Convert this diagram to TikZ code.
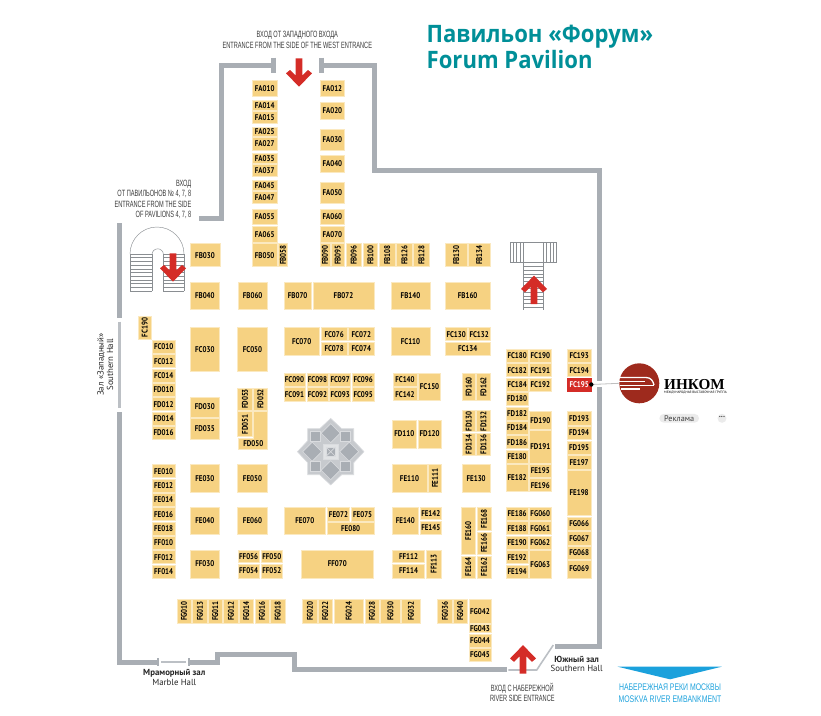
\documentclass[tikz,border=0pt]{standalone}
\usepackage{fontspec}
\setmainfont{PT Sans}
\newfontfamily\standfont[FakeStretch=0.84]{PT Sans}
\newfontfamily\thinfont[FakeStretch=0.62]{Liberation Sans}
\newfontfamily\riverfont[FakeStretch=0.72]{Liberation Sans}
\newfontfamily\titlefont[FakeStretch=0.92]{Open Sans}
\newfontfamily\logofont{Liberation Serif}
\usetikzlibrary{positioning}
\definecolor{standcol}{HTML}{F6D282}
\definecolor{standedge}{HTML}{FBE9C0}
\definecolor{wallcol}{HTML}{A9AEB4}
\definecolor{thinwall}{HTML}{BCC0C5}
\definecolor{redcol}{HTML}{D42C27}
\definecolor{tealcol}{HTML}{008F98}
\definecolor{bluecol}{HTML}{1BA1DC}
\definecolor{logocol}{HTML}{9E2A1D}
\definecolor{stepcol}{HTML}{8A8E92}
\definecolor{textcol}{HTML}{3A3A3A}
\definecolor{fountline}{HTML}{DADCDF}
\tikzset{
  standbox/.style={fill=standcol, draw=standedge, line width=0.6pt, inner sep=0pt,
    font=\standfont\bfseries\fontsize{8.3}{9}\selectfont},
  standup/.style={standbox, rotate=90},
  standred/.style={standbox, fill=redcol, draw=redcol, text=white},
  wall/.style={draw=wallcol, line width=5pt},
  slim/.style={draw=thinwall, line width=2.4pt},
  stairline/.style={draw=stepcol, line width=0.45pt},
  fountpart/.style={fill=wallcol, draw=fountline, line width=0.6pt},
  thinlabel/.style={text=textcol, inner sep=0pt, align=center,
    font=\thinfont\fontsize{9.1}{10.4}\selectfont},
  halllabel/.style={text=black!85, inner sep=0pt, align=center,
    font=\fontsize{8.8}{9.6}\selectfont},
}
%% x0 y0 x1 y1 in pixels of the plan
\newcommand{\Stand}[6][standbox]{
  \pgfmathsetmacro\sw{#5-#3}\pgfmathsetmacro\sh{#6-#4}
  \pgfmathsetmacro\sx{(#3+#5)/2}\pgfmathsetmacro\sy{(#4+#6)/2}
  \node[#1, minimum width=\sw pt, minimum height=\sh pt] (#2) at (\sx,\sy) {#2};
}
\newcommand{\VStand}[5]{
  \pgfmathsetmacro\sw{#4-#2}\pgfmathsetmacro\sh{#5-#3}
  \pgfmathsetmacro\sx{(#2+#4)/2}\pgfmathsetmacro\sy{(#3+#5)/2}
  \node[standup, minimum width=\sh pt, minimum height=\sw pt] (#1) at (\sx,\sy) {#1};
}
\newcommand{\RedArrow}[3]{
  \fill[redcol, shift={(#1,#2)}, rotate=#3] (-3.3,0) -- (3.3,0) -- (3.3,17.3) -- (9,11.7)
  -- (13,15) -- (0,28.4) -- (-13,15) -- (-9,11.7) -- (-3.3,17.3) -- cycle;
}

\begin{document}
\begin{tikzpicture}[x=1pt,y=-1pt]

  \useasboundingbox (0,0) rectangle (821,715);

  %% walls
  \draw[wall] (273.5,65) -- (221.5,65) -- (221.5,218) -- (199,218);
  \draw[wall] (273.5,57.5) -- (273.5,72.5);
  \draw[wall] (321.5,65) -- (374.8,65) -- (374.8,170.5) -- (599.2,170.5) -- (599.2,381);
  \draw[wall] (321.5,57.5) -- (321.5,72.5);
  \draw[wall] (599.2,387) -- (599.2,646.3) -- (555,646.3);
  \draw[wall] (506.7,669.8) -- (294.5,669.8) -- (294.5,654.5) -- (217.5,654.5) -- (217.5,662)
  -- (189.5,662);
  \draw[wall] (157.5,662) -- (119.3,662) -- (119.3,412.3);
  \draw[wall] (119.3,223) -- (119.3,317.7);
  \draw[slim] (119.3,321.7) -- (119.3,408.3);
  \draw[slim] (161,662) -- (186,662);
  \draw[draw=wallcol, line width=2pt] (158.3,658) -- (158.3,666);
  \draw[draw=wallcol, line width=2pt] (189,658) -- (189,666);
  \draw[slim, line width=1.6pt] (553.3,645) -- (536.7,670) -- (508.3,670);

  %% left stairs
  \draw[stairline] (130,254) arc[start angle=180, end angle=360, radius=27];
  \draw[stairline] (152,254.5) arc[start angle=180, end angle=360, radius=5.7];
  \foreach \Y in {254,257.7,...,291}{
    \draw[stairline] (130,\Y) -- (152,\Y);
    \draw[stairline] (163.4,\Y) -- (184,\Y);
  }
  \draw[stairline] (130,254) -- (130,290.7);
  \draw[stairline] (152,254) -- (152,290.7);
  \draw[stairline] (163.4,254) -- (163.4,290.7);
  \draw[stairline] (184,254) -- (184,290.7);
  \RedArrow{173}{253.3}{0}

  %% right stairs
  \draw[stairline] (510,242.7) rectangle (556.7,262.7);
  \foreach \X in {513.3,516.6,...,524}{
    \draw[stairline] (\X,242.7) -- (\X,262.7);
  }
  \foreach \X in {543.3,546.6,...,556}{
    \draw[stairline] (\X,242.7) -- (\X,262.7);
  }
  \foreach \Y in {266.4,270.1,...,310.5}{
    \draw[stairline] (523.3,\Y) -- (543.3,\Y);
  }
  \draw[stairline] (523.3,262.7) -- (523.3,310);
  \draw[stairline] (543.3,262.7) -- (543.3,310);
  \RedArrow{534}{304}{180}

  \RedArrow{299}{58.3}{0}
  \RedArrow{523}{673.5}{180}

  %% FA and FB
  \Stand{FA010}{252}{80.7}{277.3}{96.7}
  \Stand{FA014}{252}{100.7}{277.3}{110.7}
  \Stand{FA015}{252}{111.7}{277.3}{123.3}
  \Stand{FA025}{252}{127}{277.3}{136.7}
  \Stand{FA027}{252}{137.7}{277.3}{150}
  \Stand{FA035}{252}{153.7}{277.3}{163.3}
  \Stand{FA037}{252}{164.3}{277.3}{176.7}
  \Stand{FA045}{252}{180.3}{277.3}{190}
  \Stand{FA047}{252}{191}{277.3}{203.3}
  \Stand{FA055}{252}{209}{277.3}{224.3}
  \Stand{FA065}{252}{226}{277.3}{242.3}
  \Stand{FB050}{252}{243.7}{277.3}{266.7}
  \Stand{FA012}{320}{80.7}{344.7}{96.7}
  \Stand{FA020}{320}{102.7}{344.7}{119}
  \Stand{FA030}{320}{129}{344.7}{150}
  \Stand{FA040}{320}{155.7}{344.7}{172.3}
  \Stand{FA050}{320}{182.3}{344.7}{203.3}
  \Stand{FA060}{320}{209}{344.7}{224.3}
  \Stand{FA070}{320}{226}{344.7}{242.3}
  \VStand{FB058}{278.3}{243.7}{287.7}{266.7}
  \VStand{FB090}{320}{243.7}{330}{266.7}
  \VStand{FB095}{331.3}{243.7}{344.3}{266.7}
  \VStand{FB096}{346}{243.7}{361.3}{266.7}
  \VStand{FB100}{363}{243.7}{377.7}{266.7}
  \VStand{FB108}{379.3}{243.7}{395}{266.7}
  \VStand{FB126}{396.7}{243.7}{412.3}{266.7}
  \VStand{FB128}{413.7}{243.7}{429.3}{266.7}
  \VStand{FB130}{445.3}{243.7}{467}{266.7}
  \VStand{FB134}{468.3}{243.7}{490}{266.7}
  \Stand{FB030}{190}{243.7}{220}{266.7}
  \Stand{FB040}{190}{282}{219.7}{309.3}
  \Stand{FB060}{238}{282}{267.3}{309.3}
  \Stand{FB070}{284}{282}{311.3}{309.3}
  \Stand{FB072}{313}{282}{374}{309.3}
  \Stand{FB140}{391}{282}{430}{309.3}
  \Stand{FB160}{445.3}{282}{490}{309.3}

  %% FC
  \VStand{FC190}{138.3}{316}{151}{339}
  \Stand{FC010}{152.3}{340}{175}{353.3}
  \Stand{FC012}{152.3}{354.7}{175}{367.7}
  \Stand{FC014}{152.3}{369}{175}{382}
  \Stand{FC030}{190}{327.7}{219.7}{371.7}
  \Stand{FC050}{237.7}{327.7}{267.3}{371.7}
  \Stand{FC070}{284}{327.7}{319.3}{355}
  \Stand{FC076}{321}{327.7}{347.3}{340.7}
  \Stand{FC072}{348.7}{327.7}{374}{340.7}
  \Stand{FC078}{321}{342}{347.3}{355}
  \Stand{FC074}{348.7}{342}{374}{355}
  \Stand{FC090}{284}{373}{305}{386.3}
  \Stand{FC098}{307}{373}{328}{386.3}
  \Stand{FC097}{329.7}{373}{350.7}{386.3}
  \Stand{FC096}{352.3}{373}{374}{386.3}
  \Stand{FC091}{284}{387.7}{305}{401}
  \Stand{FC092}{307}{387.7}{328}{401}
  \Stand{FC093}{329.7}{387.7}{350.7}{401}
  \Stand{FC095}{352.3}{387.7}{374}{401}
  \Stand{FC110}{391}{327.7}{430}{355}
  \Stand{FC130}{445.3}{327.7}{467}{340.7}
  \Stand{FC132}{468.3}{327.7}{490}{340.7}
  \Stand{FC134}{445.3}{342}{490}{355}
  \Stand{FC140}{393}{373.3}{417}{386.3}
  \Stand{FC142}{393}{387.7}{417}{400.7}
  \Stand{FC150}{418.3}{373.3}{440.7}{400.7}
  \Stand{FC180}{506.3}{349.3}{528}{362.3}
  \node[standbox, minimum width=22pt, minimum height=13pt] (FC190r) at (540.3,355.8) {FC190};
  \Stand{FC182}{506.3}{363.7}{528}{376.7}
  \Stand{FC191}{529.3}{363.7}{551.3}{376.7}
  \Stand{FC184}{506.3}{378}{528}{391}
  \Stand{FC192}{529.3}{378}{551.3}{391}
  \Stand{FC193}{567.3}{349.3}{591}{362.3}
  \Stand{FC194}{567.3}{363.7}{591}{376.7}
  \Stand[standred]{FC195}{567.3}{378}{591}{391}

  %% FD
  \Stand{FD010}{152.3}{383.3}{175}{396.3}
  \Stand{FD012}{152.3}{397.7}{175}{410.7}
  \Stand{FD014}{152.3}{412}{175}{425}
  \Stand{FD016}{152.3}{426.3}{175}{439.3}
  \Stand{FD030}{190}{397}{219.7}{417}
  \Stand{FD035}{190}{418.7}{219.7}{439}
  \VStand{FD053}{237.7}{388}{252.3}{410}
  \VStand{FD052}{253.7}{388}{267.3}{410}
  \VStand{FD051}{237.7}{411.7}{252.3}{436.7}
  \draw[fill=standcol, draw=standedge, line width=0.6pt] (253.7,411.7) -- (267.3,411.7)
  -- (267.3,449) -- (238,449) -- (238,438) -- (253.7,438) -- cycle;
  \node[standbox, fill=none, draw=none] (FD050) at (253.3,443.2) {FD050};
  \Stand{FD110}{392}{420}{416.7}{448}
  \Stand{FD120}{418}{420}{441.3}{448}
  \VStand{FD160}{462.3}{373.3}{475}{400.7}
  \VStand{FD162}{476.7}{373.3}{490}{400.7}
  \VStand{FD130}{462.3}{410.7}{475}{431.7}
  \VStand{FD132}{476.7}{410.7}{490}{431.7}
  \VStand{FD134}{462.3}{433.3}{475}{455}
  \VStand{FD136}{476.7}{433.3}{490}{455}
  \Stand{FD180}{506.3}{392.3}{528}{405.3}
  \Stand{FD182}{506.3}{407}{528}{420}
  \Stand{FD184}{506.3}{421}{528}{434.3}
  \Stand{FD186}{506.3}{435.7}{528}{448.7}
  \Stand{FD190}{529.3}{411.7}{551.3}{429}
  \Stand{FD191}{529.3}{430.7}{551.3}{463}
  \Stand{FD193}{567.3}{411.7}{591}{425.7}
  \Stand{FD194}{567.3}{426.7}{591}{439.3}
  \Stand{FD195}{567.3}{441}{591}{454.3}

  %% FE
  \Stand{FE010}{152.3}{464.7}{175}{477.7}
  \Stand{FE012}{152.3}{479}{175}{492}
  \Stand{FE014}{152.3}{493.3}{175}{506.3}
  \Stand{FE016}{152.3}{507.7}{175}{520.7}
  \Stand{FE018}{152.3}{522}{175}{535}
  \Stand{FE030}{190}{464.7}{219.7}{492.3}
  \Stand{FE050}{237.7}{464.7}{267.3}{492.3}
  \Stand{FE040}{190}{507.3}{219.7}{534}
  \Stand{FE060}{237.7}{507.3}{267.3}{534}
  \Stand{FE070}{284}{507.3}{325.7}{534}
  \Stand{FE072}{327.3}{507.3}{349.7}{521}
  \Stand{FE075}{351.3}{507.3}{374}{521}
  \Stand{FE080}{327.3}{522.3}{374}{534}
  \Stand{FE110}{392}{464.7}{427}{492}
  \VStand{FE111}{428.7}{464.7}{441.3}{492}
  \Stand{FE130}{462.3}{464.7}{490}{492}
  \Stand{FE140}{392}{507.3}{418.7}{534}
  \Stand{FE142}{420.3}{507.3}{441.3}{519.3}
  \Stand{FE145}{420.3}{521}{441.3}{534}
  \VStand{FE160}{461}{507.3}{475.3}{554.3}
  \VStand{FE168}{477}{507.3}{491}{530.7}
  \VStand{FE166}{477}{532}{491}{554.3}
  \VStand{FE164}{461}{556}{475.3}{578}
  \VStand{FE162}{477}{556}{491}{578}
  \Stand{FE180}{506.3}{450}{528}{463}
  \Stand{FE182}{506.3}{464.3}{528}{491.7}
  \Stand{FE195}{529.3}{464.3}{551.3}{477.3}
  \Stand{FE196}{529.3}{478.7}{551.3}{491.7}
  \Stand{FE186}{506.3}{507.3}{528}{520.3}
  \Stand{FE188}{506.3}{521.7}{528}{534.7}
  \Stand{FE190}{506.3}{536}{528}{549}
  \Stand{FE192}{506.3}{550.7}{528}{563.7}
  \Stand{FE194}{506.3}{565}{528}{578}
  \Stand{FE197}{567.3}{455.7}{591}{469}
  \Stand{FE198}{567.3}{470}{591}{515.7}

  %% FF
  \Stand{FF010}{152.3}{536.3}{175}{549.3}
  \Stand{FF012}{152.3}{550.7}{175}{563.7}
  \Stand{FF014}{152.3}{565}{175}{578}
  \Stand{FF030}{190}{550}{219.7}{578}
  \Stand{FF056}{238}{550}{259.3}{562.7}
  \Stand{FF050}{261}{550}{282.7}{562.7}
  \Stand{FF054}{238}{564}{259.3}{578}
  \Stand{FF052}{261}{564}{282.7}{578}
  \Stand{FF070}{301}{550}{373.7}{578}
  \Stand{FF112}{392.3}{550}{424.7}{562.7}
  \Stand{FF114}{392.3}{564}{424.7}{578}
  \VStand{FF113}{426}{550}{441.3}{578}

  %% FG
  \VStand{FG010}{177}{599.3}{191}{623}
  \VStand{FG013}{192.7}{599.3}{207}{623}
  \VStand{FG011}{208.3}{599.3}{222}{623}
  \VStand{FG012}{223.7}{599.3}{238}{623}
  \VStand{FG014}{239.3}{599.3}{253.3}{623}
  \VStand{FG016}{255}{599.3}{269}{623}
  \VStand{FG018}{270.3}{599.3}{285}{623}
  \VStand{FG020}{302.7}{599.3}{317}{623}
  \VStand{FG022}{318.3}{599.3}{332.3}{623}
  \VStand{FG024}{334}{599.3}{363.3}{623}
  \VStand{FG028}{365}{599.3}{379}{623}
  \VStand{FG030}{380.7}{599.3}{400}{623}
  \VStand{FG032}{401.3}{599.3}{420.7}{623}
  \VStand{FG036}{437.7}{599.3}{452}{623}
  \VStand{FG040}{453.3}{599.3}{467.3}{623}
  \Stand{FG042}{469}{599.3}{491}{623}
  \Stand{FG043}{469}{624.3}{491}{632.3}
  \Stand{FG044}{469}{634}{491}{647}
  \Stand{FG045}{469}{648.3}{491}{661.7}
  \Stand{FG060}{529.3}{507.3}{551.3}{520.3}
  \Stand{FG061}{529.3}{521.7}{551.3}{534.7}
  \Stand{FG062}{529.3}{536}{551.3}{549}
  \Stand{FG063}{529.3}{550.7}{551.3}{578}
  \Stand{FG066}{567.3}{517}{591}{530.7}
  \Stand{FG067}{567.3}{531.7}{591}{545}
  \Stand{FG068}{567.3}{546.3}{591}{559}
  \Stand{FG069}{567.3}{560}{591}{578}

  %% fountain
  \begin{scope}[shift={(330.7,451.7)}]
    \draw[fountpart, fill=wallcol!65] (0,-33.3) -- (11,-23) -- (23,-23)
    -- (23,-11) -- (33.3,0) -- (23,11) -- (23,23) -- (11,23) -- (0,33.3) -- (-11,23) -- (-23,23)
    -- (-23,11) -- (-33.3,0) -- (-23,-11) -- (-23,-23) -- (-11,-23) -- cycle;
    \foreach \A in {0,90,180,270}{
      \draw[fountpart, rotate=\A] (0,-28) -- (9.5,-18.5) -- (0,-9) -- (-9.5,-18.5) -- cycle;
      \draw[fountpart, rotate=\A] (10,-20) rectangle (20,-10);
    }
    \draw[fountpart, fill=wallcol!35] (-7.5,-7.5) rectangle (7.5,7.5);
    \draw[fountpart] (-4.8,-4.8) rectangle (4.8,4.8);
    \draw[draw=fountline, line width=0.6pt] (-4.8,-4.8) -- (4.8,4.8);
    \draw[draw=fountline, line width=0.6pt] (-4.8,4.8) -- (4.8,-4.8);
  \end{scope}

  %% title
  \node[anchor=base west, inner sep=0pt, text=tealcol,
    font=\titlefont\bfseries\fontsize{24}{26}\selectfont] (titleru) at (426.5,42.3) {Павильон «Форум»};
  \node[anchor=base west, inner sep=0pt, text=tealcol,
    font=\titlefont\bfseries\fontsize{24}{26}\selectfont] (titleen) at (426.5,68.3) {Forum Pavilion};

  %% hall and entrance labels
  \node[thinlabel] (westin) at (297.3,39.8) {ВХОД ОТ ЗАПАДНОГО ВХОДА\\ENTRANCE FROM THE SIDE OF THE WEST ENTRANCE};
  \node[thinlabel, align=right, anchor=east] (pavin) at (191.5,199.2)
  {ВХОД\\ОТ ПАВИЛЬОНОВ № 4, 7, 8\\ENTRANCE FROM THE SIDE\\OF PAVILIONS 4, 7, 8};
  \node[thinlabel] (riverin) at (522.3,692.3) {ВХОД С НАБЕРЕЖНОЙ\\RIVER SIDE ENTRANCE};
  \node[halllabel, rotate=90] (westhall) at (105.3,364.5) {Зал «Западный»\\Southern Hall};
  \node[halllabel] (marble) at (174.3,677.3) {\textbf{Мраморный зал}\\Marble Hall};
  \node[halllabel] (south) at (576.7,664) {\textbf{Южный зал}\\Southern Hall};

  %% embankment
  \fill[bluecol] (617.7,666.7) -- (721.7,666.7) -- (670,679.3) -- cycle;
  \node[thinlabel, text=bluecol, font=\riverfont\fontsize{9.6}{12.2}\selectfont] (river) at (670,692.8)
  {НАБЕРЕЖНАЯ РЕКИ МОСКВЫ\\MOSKVA RIVER EMBANKMENT};

  %% logo
  \node[circle, fill=logocol, minimum size=40pt, inner sep=0pt] (logo) at (639.3,383.3) {};
  \draw[white, line width=1.3pt] (620,377.5) -- (646,377.5) .. controls (651,377.5) and (653,381) .. (654,385);
  \draw[white, line width=1.3pt] (619,381.3) -- (645,381.3);
  \draw[white, line width=1.3pt] (619.5,385.2) -- (654,385.2);
  \draw[white, line width=1.3pt] (620.5,389) -- (640,389);
  \node[anchor=base west, inner sep=0pt, font=\logofont\bfseries\fontsize{15.2}{16}\selectfont]
  (inkom) at (664,389) {ИНКОМ};
  \node[anchor=north west, inner sep=0pt, font=\fontsize{3.3}{4}\selectfont]
  (inkomsub) at (664,391) {МЕЖДУНАРОДНАЯ ВЫСТАВОЧНАЯ ГРУППА};
  \draw[draw=black!25, line width=0.8pt] (FC195.east) -- (logo.west);
  \fill[black] (FC195.east) circle (2.2);

  %% advert
  \node[fill=black!8, rounded corners=4.3pt, inner sep=0pt, minimum width=39.7pt, minimum height=8.7pt,
    font=\fontsize{8.2}{8}\selectfont, text=black!75] (ad) at (679.2,418.3) {Реклама};
  \node[circle, fill=black!8, minimum size=9pt, inner sep=0pt, text=black!75,
    font=\bfseries\fontsize{8}{8}\selectfont] (dots) at (722,418.3) {···};

\end{tikzpicture}
\end{document}
